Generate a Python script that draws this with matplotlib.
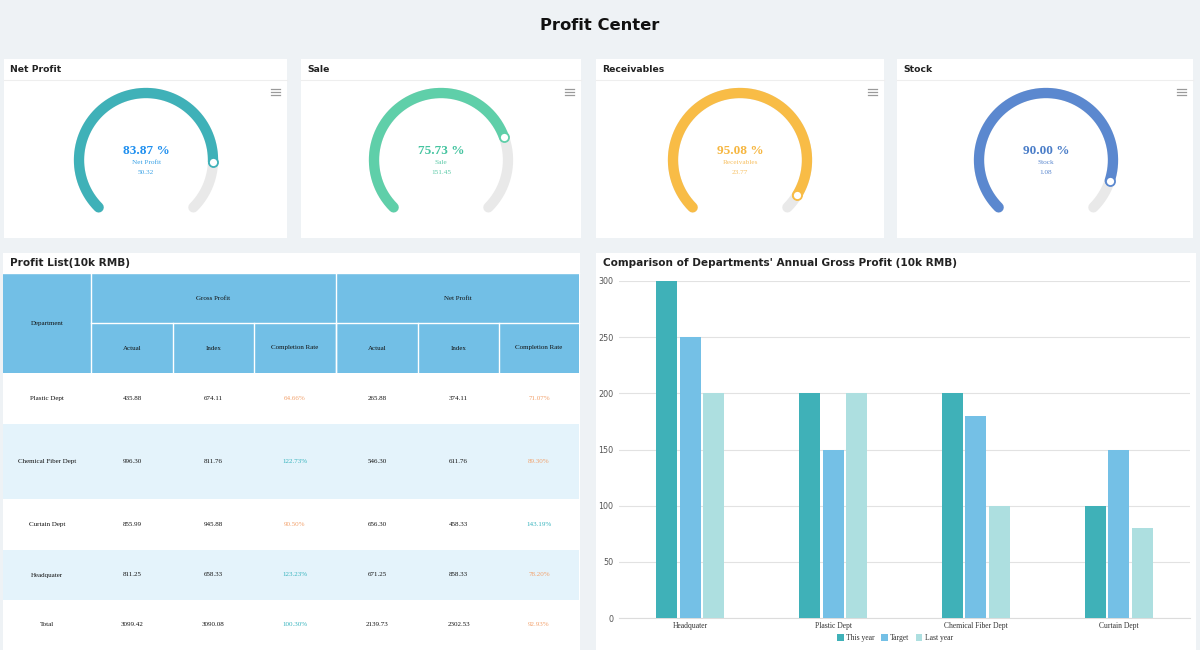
import numpy as np
import matplotlib
matplotlib.use("Agg")
import matplotlib.pyplot as plt
from matplotlib.patches import Rectangle

# ---------------- data ----------------
gauge_titles = ["Net Profit", "Sale", "Receivables", "Stock"]
gauge_percent = [83.87, 75.73, 95.08, 90.00]
gauge_values = [50.32, 151.45, 23.77, 1.08]

departments = ["Plastic Dept", "Chemical Fiber Dept", "Curtain Dept", "Headquater", "Total"]
gross_actual = [435.88, 996.30, 855.99, 811.25, 3099.42]
gross_index = [674.11, 811.76, 945.88, 658.33, 3090.08]
gross_rate = [64.66, 122.73, 90.50, 123.23, 100.30]
net_actual = [265.88, 546.30, 656.30, 671.25, 2139.73]
net_index = [374.11, 611.76, 458.33, 858.33, 2302.53]
net_rate = [71.07, 89.30, 143.19, 78.20, 92.93]

bar_categories = ["Headquater", "Plastic Dept", "Chemical Fiber Dept", "Curtain Dept"]
this_year = [300, 200, 200, 100]
target = [250, 150, 180, 150]
last_year = [200, 200, 100, 80]
y_ticks = [0, 50, 100, 150, 200, 250, 300]

# ---------------- style ----------------
W, H = 1200, 650
BG = "#eef2f5"
SERIF = ["Liberation Serif", "DejaVu Serif"]
SANS = ["DejaVu Sans"]
arc_colors = ["#3fb1b8", "#5fcfa9", "#f8bc46", "#5b88cf"]
text_colors = ["#1f8fef", "#45c4a0", "#f6b640", "#4a7dc8"]
sub_colors = ["#3aa2e6", "#5ccaa8", "#f7c062", "#5b88cf"]

fig = plt.figure(figsize=(12, 6.5), dpi=100)
fig.patch.set_facecolor(BG)

canvas = fig.add_axes([0, 0, 1, 1])
canvas.set_xlim(0, W)
canvas.set_ylim(H, 0)
canvas.axis("off")


def frac(x0, y0, x1, y1):
    return [x0 / W, 1 - y1 / H, (x1 - x0) / W, (y1 - y0) / H]


def card(x0, y0, x1, y1):
    canvas.add_patch(Rectangle((x0, y0), x1 - x0, y1 - y0, facecolor="white",
                               edgecolor="none", zorder=1))


canvas.text(600, 25, "Profit Center", ha="center", va="center", fontsize=11.8,
            fontweight="bold", family=SANS, color="#111111")

# ---------------- gauges ----------------
cards = [(4, 59, 287, 238), (301, 59, 581, 238), (596, 59, 884, 238), (897, 59, 1193, 238)]
centers = [146, 441, 740, 1046]
menu_x = [275, 569, 872, 1181]
R = 67
for i, (x0, y0, x1, y1) in enumerate(cards):
    card(x0, y0, x1, y1)
    canvas.plot([x0, x1], [80, 80], color="#eeeeee", lw=0.8, zorder=2)
    canvas.text(x0 + 6, 69, gauge_titles[i], ha="left", va="center", fontsize=6.7,
                fontweight="bold", family=SANS, color="#222222", zorder=3)
    for dy in (-3, 0, 3):
        canvas.plot([menu_x[i] - 4.5, menu_x[i] + 4.5], [92 + dy, 92 + dy],
                    color="#9a9a9a", lw=0.9, zorder=3)

    cx = centers[i]
    gax = fig.add_axes(frac(cx - 85, 160 - 85, cx + 85, 160 + 85))
    gax.set_xlim(-85, 85)
    gax.set_ylim(-85, 85)
    gax.set_aspect("equal")
    gax.axis("off")
    t_full = np.radians(np.linspace(225, -45, 300))
    gax.plot(R * np.cos(t_full), R * np.sin(t_full), color="#e9e9e9", lw=7.4,
             solid_capstyle="round")
    end = 225 - 270 * gauge_percent[i] / 100
    t = np.radians(np.linspace(225, end, 300))
    gax.plot(R * np.cos(t), R * np.sin(t), color=arc_colors[i], lw=7.4,
             solid_capstyle="round")
    gax.plot([R * np.cos(np.radians(end))], [R * np.sin(np.radians(end))], "o",
             ms=6.5, mfc="white", mec=arc_colors[i], mew=1.3)
    gax.text(0, 9, f"{gauge_percent[i]:.2f} %", ha="center", va="center",
             fontsize=9.5, fontweight="bold", family=SERIF, color=text_colors[i])
    gax.text(0, -3, gauge_titles[i], ha="center", va="center", fontsize=5.2,
             family=SERIF, color=sub_colors[i])
    gax.text(0, -12, f"{gauge_values[i]:.2f}", ha="center", va="center", fontsize=5.2,
             family=SERIF, color=sub_colors[i])

# ---------------- table ----------------
card(3, 253, 580, 650)
canvas.text(10, 263, "Profit List(10k RMB)", ha="left", va="center", fontsize=7.6,
            fontweight="bold", family=SANS, color="#222222", zorder=3)

HEAD = "#72bfe6"
col_edges = [3, 91, 173, 254, 336, 418, 499, 579]
row_edges = [373, 424, 499, 550, 600, 650]
head_top, head_mid = 273, 323

canvas.add_patch(Rectangle((3, head_top), 576, row_edges[0] - head_top,
                           facecolor=HEAD, edgecolor="none", zorder=2))
lw_div = 1.0
canvas.plot([3, 579], [head_top, head_top], color="white", lw=lw_div, zorder=3)
canvas.plot([91, 579], [head_mid, head_mid], color="white", lw=lw_div, zorder=3)
canvas.plot([91, 91], [head_top, row_edges[0]], color="white", lw=lw_div, zorder=3)
canvas.plot([336, 336], [head_top, row_edges[0]], color="white", lw=lw_div, zorder=3)
for xe in col_edges[2:-1]:
    canvas.plot([xe, xe], [head_mid, row_edges[0]], color="white", lw=lw_div, zorder=3)

hfs = 5.0
canvas.text(47, 323, "Department", ha="center", va="center", fontsize=hfs,
            family=SERIF, color="#111111", zorder=4)
canvas.text((91 + 336) / 2, 298, "Gross Profit", ha="center", va="center",
            fontsize=hfs, family=SERIF, color="#111111", zorder=4)
canvas.text((336 + 579) / 2, 298, "Net Profit", ha="center", va="center",
            fontsize=hfs, family=SERIF, color="#111111", zorder=4)
sub_heads = ["Actual", "Index", "Completion Rate"] * 2
for j, name in enumerate(sub_heads):
    xc = (col_edges[j + 1] + col_edges[j + 2]) / 2
    canvas.text(xc, 348, name, ha="center", va="center", fontsize=hfs,
                family=SERIF, color="#111111", zorder=4)

ORANGE = "#f2a06a"
TEAL = "#35b3bd"
for r, dep in enumerate(departments):
    ytop, ybot = row_edges[r], row_edges[r + 1]
    if r % 2 == 1:
        canvas.add_patch(Rectangle((3, ytop), 576, ybot - ytop, facecolor="#e4f3fb",
                                   edgecolor="none", zorder=2))
    yc = (ytop + ybot) / 2
    cells = [dep, f"{gross_actual[r]:.2f}", f"{gross_index[r]:.2f}",
             f"{gross_rate[r]:.2f}%", f"{net_actual[r]:.2f}", f"{net_index[r]:.2f}",
             f"{net_rate[r]:.2f}%"]
    rates = {3: gross_rate[r], 6: net_rate[r]}
    for j, txt in enumerate(cells):
        xc = (col_edges[j] + col_edges[j + 1]) / 2
        color = "#111111"
        if j in rates:
            color = TEAL if rates[j] >= 100 else ORANGE
        canvas.text(xc, yc, txt, ha="center", va="center", fontsize=hfs,
                    family=SERIF, color=color, zorder=4)

# ---------------- bar chart ----------------
card(596, 253, 1196, 650)
canvas.text(603, 263, "Comparison of Departments' Annual Gross Profit (10k RMB)",
            ha="left", va="center", fontsize=7.6, fontweight="bold", family=SANS,
            color="#222222", zorder=3)

bax = fig.add_axes(frac(619, 281, 1190, 618))
bax.set_facecolor("none")
x = np.arange(len(bar_categories))
bw = 0.147
off = 0.165
series = [("This year", this_year, "#3fb1b8"), ("Target", target, "#74c0e6"),
          ("Last year", last_year, "#addfe0")]
handles = []
for k, (lab, vals, col) in enumerate(series):
    h = bax.bar(x + (k - 1) * off, vals, width=bw, color=col, label=lab, zorder=3)
    handles.append(h)
bax.set_xlim(-0.5, len(bar_categories) - 0.5)
bax.set_ylim(0, 300)
bax.set_yticks(y_ticks)
bax.set_yticklabels([str(v) for v in y_ticks], fontsize=5.8, color="#555555",
                    family=SANS)
bax.set_xticks(x)
bax.set_xticklabels(bar_categories, fontsize=5.5, family=SERIF, color="#333333")
bax.tick_params(axis="both", length=0, pad=3)
bax.tick_params(axis="y", pad=4)
bax.grid(axis="y", color="#e2e2e2", lw=0.8, zorder=0)
for s in ["top", "right", "left"]:
    bax.spines[s].set_visible(False)
bax.spines["bottom"].set_color("#dcdcdc")
bax.spines["bottom"].set_linewidth(0.8)

fig.legend(handles=handles, labels=[s[0] for s in series], loc="center",
           bbox_to_anchor=(895 / W, 1 - 638 / H), ncol=3, frameon=False,
           handlelength=0.9, handleheight=0.9, handletextpad=0.3,
           columnspacing=0.8, prop={"family": SERIF, "size": 5.5},
           labelcolor="#333333")

fig.savefig("out.png", dpi=100, facecolor=BG)
